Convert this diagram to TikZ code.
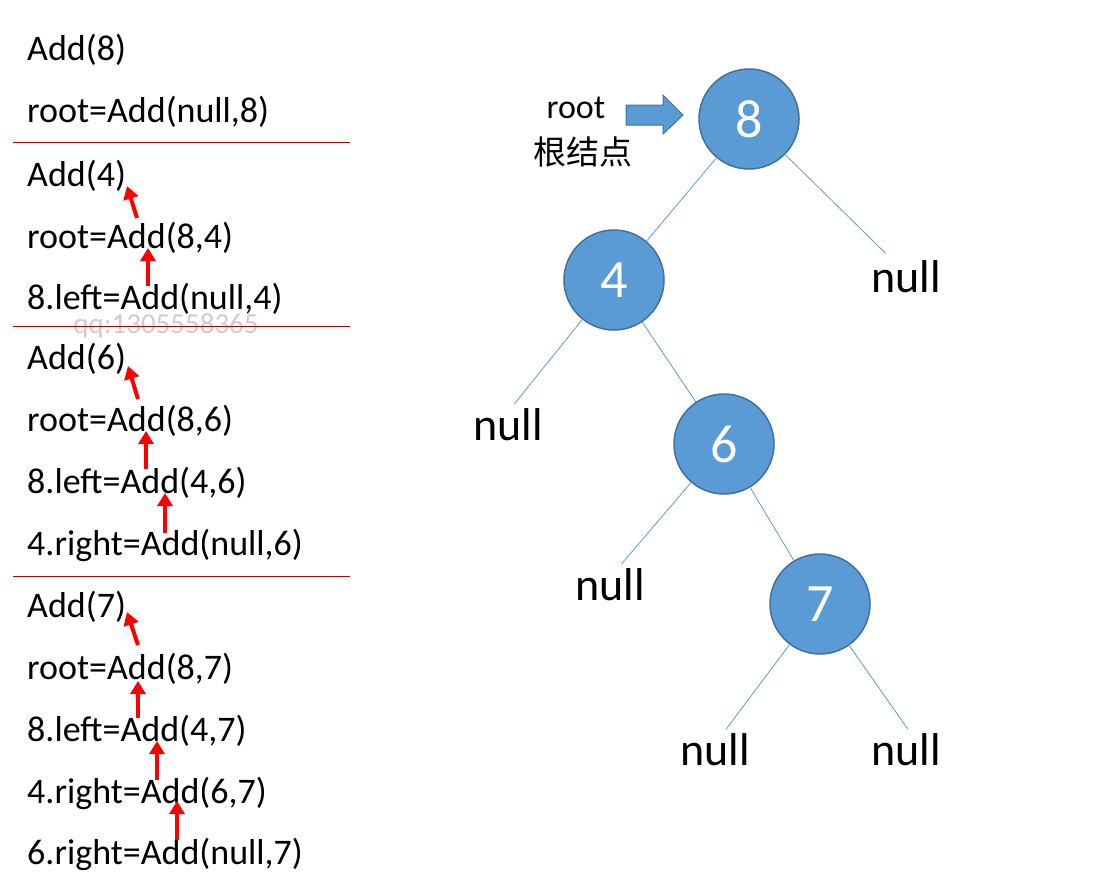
\documentclass[tikz,border=0pt]{standalone}
\usepackage{fontspec}
\setmainfont{Carlito}
\newfontfamily\cjk{Noto Sans CJK SC}
\usetikzlibrary{arrows.meta}

\definecolor{nodeblue}{RGB}{91,155,213}
\definecolor{nodeedge}{RGB}{65,113,156}
\definecolor{sepred}{RGB}{192,0,0}
\definecolor{wmgray}{RGB}{205,205,205}

\tikzset{
    step text/.style={anchor=west, inner sep=0pt, font=\fontsize{36}{40}\selectfont},
    tree node/.style={circle, draw=nodeedge, line width=1.5pt, fill=nodeblue,
        minimum size=100pt, inner sep=0pt, text=white, font=\fontsize{54}{60}\selectfont},
    null node/.style={inner sep=3pt, font=\fontsize{46}{50}\selectfont},
    edge line/.style={draw=nodeblue, line width=0.8pt},
    call arrow/.style={draw=red, line width=4pt, -{Triangle[width=15pt,length=13pt]}},
    sep line/.style={draw=sepred, line width=0.8pt}
}

\begin{document}
\begin{tikzpicture}[x=1pt, y=-1pt]

    \useasboundingbox (0,0) rectangle (1094,891);

    % Calls: Add(8)
    \node[step text] (s1) at (27,50) {Add(8)};
    \node[step text] (s2) at (27,112) {root=Add(null,8)};
    \draw[sep line] (13,142) -- (350,142);

    % Calls: Add(4)
    \node[step text] (s3) at (27,176) {Add(4)};
    \node[step text] (s4) at (27,238) {root=Add(8,4)};
    \node[step text] (s5) at (27,299) {8.left=Add(null,4)};
    \node[wmgray, font=\fontsize{29}{32}\selectfont] (wm) at (166,326) {qq:1305558365};
    \draw[sep line] (13,326) -- (350,326);

    % Calls: Add(6)
    \node[step text] (s6) at (27,359) {Add(6)};
    \node[step text] (s7) at (27,421) {root=Add(8,6)};
    \node[step text] (s8) at (27,483) {8.left=Add(4,6)};
    \node[step text] (s9) at (27,545) {4.right=Add(null,6)};
    \draw[sep line] (13,576) -- (350,576);

    % Calls: Add(7)
    \node[step text] (s10) at (27,607) {Add(7)};
    \node[step text] (s11) at (27,669) {root=Add(8,7)};
    \node[step text] (s12) at (27,731) {8.left=Add(4,7)};
    \node[step text] (s13) at (27,793) {4.right=Add(6,7)};
    \node[step text] (s14) at (27,854) {6.right=Add(null,7)};

    % Return arrows
    \draw[call arrow] (137,218) -- (127,186);
    \draw[call arrow] (148,286) -- (148,248);

    \draw[call arrow] (138,399) -- (128,366);
    \draw[call arrow] (146,469) -- (146,431);
    \draw[call arrow] (165,533) -- (165,493);

    \draw[call arrow] (138,645) -- (127,612);
    \draw[call arrow] (138,718) -- (138,681);
    \draw[call arrow] (157,780) -- (157,741);
    \draw[call arrow] (177,840) -- (177,801);

    % Tree
    \node[tree node] (n8) at (749,119) {8};
    \node[tree node] (n4) at (614,280) {4};
    \node[tree node] (n6) at (724,444) {6};
    \node[tree node] (n7) at (820,604) {7};

    \node[null node] (z8) at (906,277) {null};
    \node[null node] (z4) at (508,425) {null};
    \node[null node] (z6) at (610,585) {null};
    \node[null node] (z7a) at (715,750) {null};
    \node[null node] (z7b) at (906,750) {null};

    \draw[edge line] (n8) -- (n4);
    \draw[edge line, shorten >=6pt] (n8) -- ([xshift=-16pt]z8.north);
    \draw[edge line, shorten >=2pt] (n4) -- ([xshift=5pt]z4.north);
    \draw[edge line] (n4) -- (n6);
    \draw[edge line, shorten >=2pt] (n6) -- ([xshift=10pt]z6.north);
    \draw[edge line] (n6) -- (n7);
    \draw[edge line, shorten >=2pt] (n7) -- ([xshift=10pt]z7a.north);
    \draw[edge line, shorten >=2pt] (n7) -- ([xshift=3pt]z7b.north);

    % Root pointer
    \node[anchor=base, inner sep=0pt, font=\fontsize{34}{38}\selectfont] (rt) at (576,118) {root};
    \node[inner sep=0pt, font=\cjk\fontsize{33}{38}\selectfont] (rtcn) at (583,152) {根结点};
    \draw[fill=nodeblue, draw=nodeedge, line width=1pt]
        (626,105) -- (663,105) -- (663,95) -- (683,115) -- (663,134) -- (663,125) -- (626,125) -- cycle;

\end{tikzpicture}
\end{document}
